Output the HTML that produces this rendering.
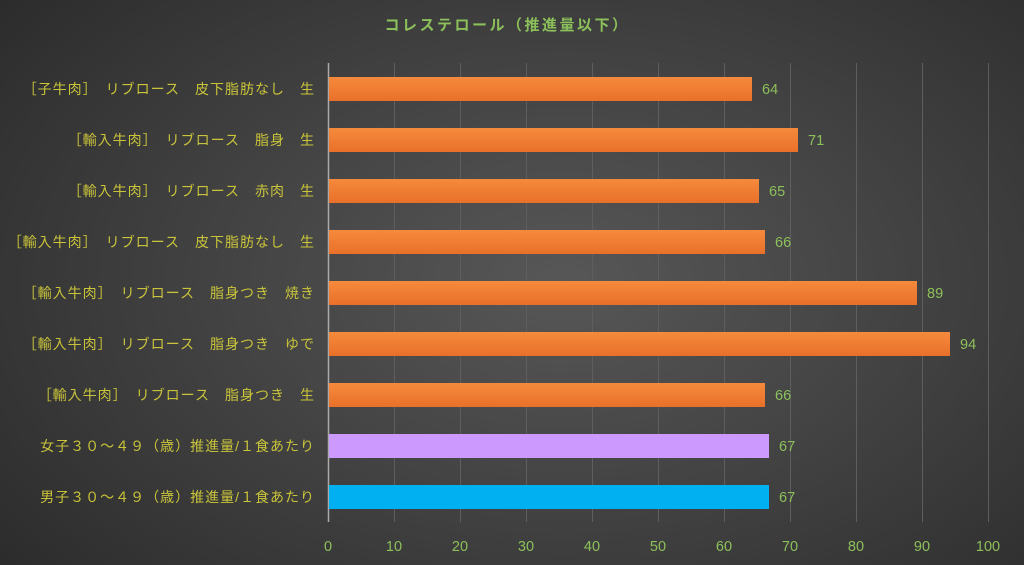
<!DOCTYPE html>
<html><head><meta charset="utf-8"><style>
html,body{margin:0;padding:0;}
body{width:1024px;height:565px;overflow:hidden;background:radial-gradient(ellipse 70% 80% at 55% 50%,#575757 0%,#444 45%,#2c2c2c 100%);}
svg{position:absolute;left:0;top:0;}
.l{font-family:"Liberation Sans","Noto Sans CJK JP",sans-serif;font-size:14px;letter-spacing:1px;fill:#c9c43a;}
.t{font-family:"Liberation Sans","Noto Sans CJK JP",sans-serif;font-size:14.5px;fill:#8cc05a;}
</style></head><body>
<svg width="1024" height="565">
<defs>
<linearGradient id="o" x1="0" y1="0" x2="0" y2="1"><stop offset="0" stop-color="#f58a3c"/><stop offset="1" stop-color="#e9702a"/></linearGradient>
</defs>
<text x="507" y="30" text-anchor="middle" style="font-family:'Liberation Sans','Noto Sans CJK JP',sans-serif;font-size:15px;letter-spacing:2.5px;font-weight:bold;fill:#8cc05a">コレステロール（推進量以下）</text>
<g stroke="#5e5e5e" stroke-width="1">
<line x1="394.5" y1="63" x2="394.5" y2="522"/><line x1="460.5" y1="63" x2="460.5" y2="522"/>
<line x1="526.5" y1="63" x2="526.5" y2="522"/><line x1="592.5" y1="63" x2="592.5" y2="522"/>
<line x1="658.5" y1="63" x2="658.5" y2="522"/><line x1="724.5" y1="63" x2="724.5" y2="522"/>
<line x1="790.5" y1="63" x2="790.5" y2="522"/><line x1="856.5" y1="63" x2="856.5" y2="522"/>
<line x1="922.5" y1="63" x2="922.5" y2="522"/><line x1="988.5" y1="63" x2="988.5" y2="522"/>
</g>
<line x1="328.5" y1="63" x2="328.5" y2="522" stroke="#aaa" stroke-width="1.5"/>
<g>
<rect x="329" y="77" width="423" height="24" fill="url(#o)"/>
<rect x="329" y="128" width="469" height="24" fill="url(#o)"/>
<rect x="329" y="179" width="430" height="24" fill="url(#o)"/>
<rect x="329" y="230" width="436" height="24" fill="url(#o)"/>
<rect x="329" y="281" width="588" height="24" fill="url(#o)"/>
<rect x="329" y="332" width="621" height="24" fill="url(#o)"/>
<rect x="329" y="383" width="436" height="24" fill="url(#o)"/>
<rect x="329" y="434" width="440" height="24" fill="#cc99ff"/>
<rect x="329" y="485" width="440" height="24" fill="#00b0f0"/>
</g>
<g class="t">
<text x="762" y="94">64</text><text x="808" y="145">71</text><text x="769" y="196">65</text>
<text x="775" y="247">66</text><text x="927" y="298">89</text><text x="960" y="349">94</text>
<text x="775" y="400">66</text><text x="779" y="451">67</text><text x="779" y="502">67</text>
</g>
<g class="l" text-anchor="end">
<text x="315" y="94">［子牛肉］　リブロース　皮下脂肪なし　生</text>
<text x="315" y="145">［輸入牛肉］　リブロース　脂身　生</text>
<text x="315" y="196">［輸入牛肉］　リブロース　赤肉　生</text>
<text x="315" y="247">［輸入牛肉］　リブロース　皮下脂肪なし　生</text>
<text x="315" y="298">［輸入牛肉］　リブロース　脂身つき　焼き</text>
<text x="315" y="349">［輸入牛肉］　リブロース　脂身つき　ゆで</text>
<text x="315" y="400">［輸入牛肉］　リブロース　脂身つき　生</text>
<text x="315" y="451">女子３０～４９（歳）推進量/１食あたり</text>
<text x="315" y="502">男子３０～４９（歳）推進量/１食あたり</text>
</g>
<g class="t" text-anchor="middle">
<text x="328" y="551">0</text><text x="394" y="551">10</text><text x="460" y="551">20</text>
<text x="526" y="551">30</text><text x="592" y="551">40</text><text x="658" y="551">50</text>
<text x="724" y="551">60</text><text x="790" y="551">70</text><text x="856" y="551">80</text>
<text x="922" y="551">90</text><text x="988" y="551">100</text>
</g>
</svg>
</body></html>
